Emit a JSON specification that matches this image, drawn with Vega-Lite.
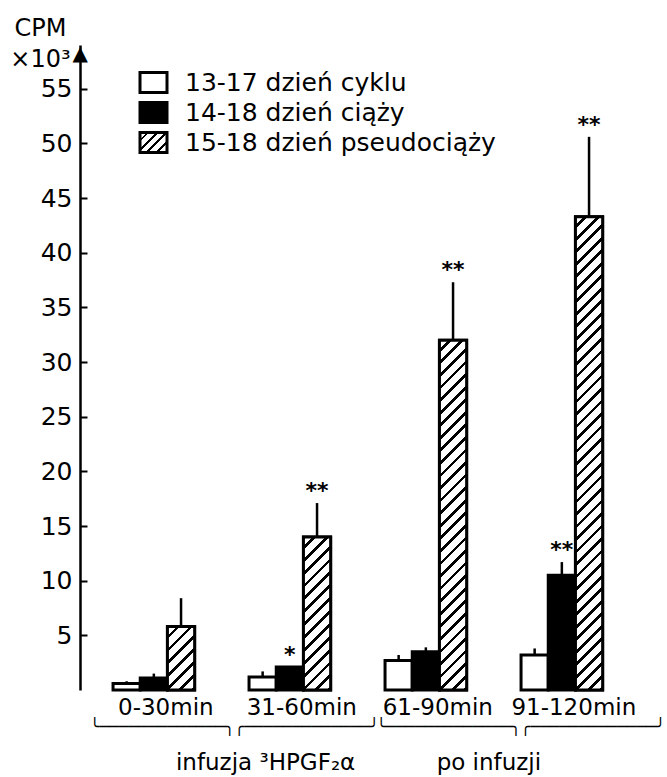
{
  "$schema": "https://vega.github.io/schema/vega-lite/v6.json",
  "width": 584,
  "height": 645,
  "autosize": {"type": "none"},
  "padding": {"left": 80, "top": 45, "right": 3, "bottom": 87},
  "background": "white",
  "config": {"view": {"stroke": null}, "font": "DejaVu Sans", "text": {"color": "black"}},
  "resolve": {"scale": {"x": "independent"}},
  "layer": [
    {
      "data": {"values": [
        {"time": "0-30min", "series": "13-17 dzień cyklu", "value": 0.6, "err": 0.8, "sig": ""},
        {"time": "0-30min", "series": "14-18 dzień ciąży", "value": 1.1, "err": 1.5, "sig": ""},
        {"time": "0-30min", "series": "15-18 dzień pseudociąży", "value": 5.8, "err": 8.4, "sig": ""},
        {"time": "31-60min", "series": "13-17 dzień cyklu", "value": 1.2, "err": 1.7, "sig": ""},
        {"time": "31-60min", "series": "14-18 dzień ciąży", "value": 2.1, "err": 2.1, "sig": "*"},
        {"time": "31-60min", "series": "15-18 dzień pseudociąży", "value": 14.0, "err": 17.1, "sig": "**"},
        {"time": "61-90min", "series": "13-17 dzień cyklu", "value": 2.7, "err": 3.2, "sig": ""},
        {"time": "61-90min", "series": "14-18 dzień ciąży", "value": 3.5, "err": 3.9, "sig": ""},
        {"time": "61-90min", "series": "15-18 dzień pseudociąży", "value": 32.0, "err": 37.3, "sig": "**"},
        {"time": "91-120min", "series": "13-17 dzień cyklu", "value": 3.2, "err": 3.8, "sig": ""},
        {"time": "91-120min", "series": "14-18 dzień ciąży", "value": 10.5, "err": 11.7, "sig": "**"},
        {"time": "91-120min", "series": "15-18 dzień pseudociąży", "value": 43.3, "err": 50.6, "sig": "**"}
      ]},
      "encoding": {
        "x": {
          "field": "time", "type": "nominal",
          "scale": {"type": "band", "domain": ["0-30min", "31-60min", "61-90min", "91-120min"], "paddingInner": 0.4, "paddingOuter": 0.347, "align": 0.35},
          "axis": {"title": null, "domain": false, "ticks": false, "labelFont": "DejaVu Sans", "labelFontSize": 23, "labelColor": "black", "labelPadding": 6, "labelOffset": 12, "labelAngle": 0}
        },
        "xOffset": {
          "field": "series", "type": "nominal",
          "scale": {"domain": ["13-17 dzień cyklu", "14-18 dzień ciąży", "15-18 dzień pseudociąży"], "paddingInner": 0, "paddingOuter": 0}
        }
      },
      "layer": [
        {
          "mark": {"type": "bar", "stroke": "black", "strokeWidth": 3},
          "encoding": {
            "y": {
              "field": "value", "type": "quantitative",
              "scale": {"domain": [0, 59], "nice": false, "zero": true},
              "axis": {
                "values": [5, 10, 15, 20, 25, 30, 35, 40, 45, 50, 55, 58.2],
                "labelExpr": "datum.value > 57 ? '▲' : datum.label",
                "grid": false, "domain": true, "domainColor": "black", "domainWidth": 2.5,
                "ticks": true, "tickColor": "black", "tickWidth": 2, "tickSize": -7,
                "tickOpacity": {"condition": {"test": "datum.value > 57", "value": 0}, "value": 1},
                "labelFont": "DejaVu Sans", "labelColor": "black", "labelPadding": 15,
                "labelFontSize": {"condition": {"test": "datum.value > 57", "value": 20}, "value": 25},
                "labelAlign": {"condition": {"test": "datum.value > 57", "value": "left"}, "value": "right"},
                "labelFlush": false, "labelOverlap": false, "labelBound": false,
                "title": ["CPM", "×10³"], "titleAngle": 0, "titleAlign": "center", "titleBaseline": "alphabetic",
                "titleX": -40, "titleY": -10, "titleFontSize": 24, "titleFontWeight": "normal", "titleColor": "black",
                "titleLineHeight": 31, "titleFont": "DejaVu Sans"
              }
            },
            "fill": {
              "field": "series", "type": "nominal",
              "scale": {
                "domain": ["13-17 dzień cyklu", "14-18 dzień ciąży", "15-18 dzień pseudociąży"],
                "range": ["white", "black", {"expr": "{gradient: 'linear', x1: 0, y1: 0, x2: 1.124, y2: 0.8326, stops: [{offset: 0, color: '#fff'}, {offset: 0.14, color: '#fff'}, {offset: 0.14, color: '#000'}, {offset: 0.2, color: '#000'}, {offset: 0.2, color: '#fff'}, {offset: 0.34, color: '#fff'}, {offset: 0.34, color: '#000'}, {offset: 0.4, color: '#000'}, {offset: 0.4, color: '#fff'}, {offset: 0.54, color: '#fff'}, {offset: 0.54, color: '#000'}, {offset: 0.6, color: '#000'}, {offset: 0.6, color: '#fff'}, {offset: 0.74, color: '#fff'}, {offset: 0.74, color: '#000'}, {offset: 0.8, color: '#000'}, {offset: 0.8, color: '#fff'}, {offset: 0.94, color: '#fff'}, {offset: 0.94, color: '#000'}, {offset: 1, color: '#000'}]}"}]
              },
              "legend": {
                "title": null, "orient": "none", "legendX": 61, "legendY": 25, "padding": 0,
                "symbolType": "M-1.35,-1H1.35V1H-1.35Z", "symbolSize": 400,
                "symbolStrokeWidth": 3, "symbolStrokeColor": "black",
                "labelFont": "DejaVu Sans", "labelFontSize": 25, "labelColor": "black", "labelOffset": 19, "labelLimit": 500,
                "rowPadding": -3,
                "encode": {"symbols": {"update": {
                  "stroke": {"value": "black"},
                  "strokeWidth": {"value": 3},
                  "opacity": {"value": 1}
                }}}
              }
            }
          }
        },
        {
          "transform": [{"filter": "datum.time === '0-30min' && datum.series === '15-18 dzień pseudociąży'"}],
          "mark": {"type": "bar", "stroke": "black", "strokeWidth": 3, "fill": {"gradient": "linear", "x1": 0, "y1": 0, "x2": 0.5177, "y2": 1.2068, "stops": [
            {"offset": 0, "color": "#fff"}, {"offset": 0.1, "color": "#fff"}, {"offset": 0.1, "color": "#000"}, {"offset": 0.1429, "color": "#000"},
            {"offset": 0.1429, "color": "#fff"}, {"offset": 0.2429, "color": "#fff"}, {"offset": 0.2429, "color": "#000"}, {"offset": 0.2857, "color": "#000"},
            {"offset": 0.2857, "color": "#fff"}, {"offset": 0.3857, "color": "#fff"}, {"offset": 0.3857, "color": "#000"}, {"offset": 0.4286, "color": "#000"},
            {"offset": 0.4286, "color": "#fff"}, {"offset": 0.5286, "color": "#fff"}, {"offset": 0.5286, "color": "#000"}, {"offset": 0.5714, "color": "#000"},
            {"offset": 0.5714, "color": "#fff"}, {"offset": 0.6714, "color": "#fff"}, {"offset": 0.6714, "color": "#000"}, {"offset": 0.7143, "color": "#000"},
            {"offset": 0.7143, "color": "#fff"}, {"offset": 0.8143, "color": "#fff"}, {"offset": 0.8143, "color": "#000"}, {"offset": 0.8571, "color": "#000"},
            {"offset": 0.8571, "color": "#fff"}, {"offset": 0.9571, "color": "#fff"}, {"offset": 0.9571, "color": "#000"}, {"offset": 1, "color": "#000"}
          ]}},
          "encoding": {"y": {"field": "value", "type": "quantitative"}}
        },
        {
          "transform": [{"filter": "datum.time === '31-60min' && datum.series === '15-18 dzień pseudociąży'"}],
          "mark": {"type": "bar", "stroke": "black", "strokeWidth": 3, "fill": {"gradient": "linear", "x1": 0, "y1": 0, "x2": 0.2030, "y2": 1.1417, "stops": [
            {"offset": 0, "color": "#fff"}, {"offset": 0.05, "color": "#fff"}, {"offset": 0.05, "color": "#000"}, {"offset": 0.0714, "color": "#000"},
            {"offset": 0.0714, "color": "#fff"}, {"offset": 0.1214, "color": "#fff"}, {"offset": 0.1214, "color": "#000"}, {"offset": 0.1429, "color": "#000"},
            {"offset": 0.1429, "color": "#fff"}, {"offset": 0.1929, "color": "#fff"}, {"offset": 0.1929, "color": "#000"}, {"offset": 0.2143, "color": "#000"},
            {"offset": 0.2143, "color": "#fff"}, {"offset": 0.2643, "color": "#fff"}, {"offset": 0.2643, "color": "#000"}, {"offset": 0.2857, "color": "#000"},
            {"offset": 0.2857, "color": "#fff"}, {"offset": 0.3357, "color": "#fff"}, {"offset": 0.3357, "color": "#000"}, {"offset": 0.3571, "color": "#000"},
            {"offset": 0.3571, "color": "#fff"}, {"offset": 0.4071, "color": "#fff"}, {"offset": 0.4071, "color": "#000"}, {"offset": 0.4286, "color": "#000"},
            {"offset": 0.4286, "color": "#fff"}, {"offset": 0.4786, "color": "#fff"}, {"offset": 0.4786, "color": "#000"}, {"offset": 0.5, "color": "#000"},
            {"offset": 0.5, "color": "#fff"}, {"offset": 0.55, "color": "#fff"}, {"offset": 0.55, "color": "#000"}, {"offset": 0.5714, "color": "#000"},
            {"offset": 0.5714, "color": "#fff"}, {"offset": 0.6214, "color": "#fff"}, {"offset": 0.6214, "color": "#000"}, {"offset": 0.6429, "color": "#000"},
            {"offset": 0.6429, "color": "#fff"}, {"offset": 0.6929, "color": "#fff"}, {"offset": 0.6929, "color": "#000"}, {"offset": 0.7143, "color": "#000"},
            {"offset": 0.7143, "color": "#fff"}, {"offset": 0.7643, "color": "#fff"}, {"offset": 0.7643, "color": "#000"}, {"offset": 0.7857, "color": "#000"},
            {"offset": 0.7857, "color": "#fff"}, {"offset": 0.8357, "color": "#fff"}, {"offset": 0.8357, "color": "#000"}, {"offset": 0.8571, "color": "#000"},
            {"offset": 0.8571, "color": "#fff"}, {"offset": 0.9071, "color": "#fff"}, {"offset": 0.9071, "color": "#000"}, {"offset": 0.9286, "color": "#000"},
            {"offset": 0.9286, "color": "#fff"}, {"offset": 0.9786, "color": "#fff"}, {"offset": 0.9786, "color": "#000"}, {"offset": 1, "color": "#000"}
          ]}},
          "encoding": {"y": {"field": "value", "type": "quantitative"}}
        },
        {
          "transform": [{"filter": "datum.time === '61-90min' && datum.series === '15-18 dzień pseudociąży'"}],
          "mark": {"type": "bar", "stroke": "black", "strokeWidth": 3, "fill": {"gradient": "linear", "x1": 0, "y1": 0, "x2": 0.0833, "y2": 1.0713, "stops": [
            {"offset": 0, "color": "#fff"}, {"offset": 0.0233, "color": "#fff"}, {"offset": 0.0233, "color": "#000"}, {"offset": 0.0333, "color": "#000"},
            {"offset": 0.0333, "color": "#fff"}, {"offset": 0.0567, "color": "#fff"}, {"offset": 0.0567, "color": "#000"}, {"offset": 0.0667, "color": "#000"},
            {"offset": 0.0667, "color": "#fff"}, {"offset": 0.09, "color": "#fff"}, {"offset": 0.09, "color": "#000"}, {"offset": 0.1, "color": "#000"},
            {"offset": 0.1, "color": "#fff"}, {"offset": 0.1233, "color": "#fff"}, {"offset": 0.1233, "color": "#000"}, {"offset": 0.1333, "color": "#000"},
            {"offset": 0.1333, "color": "#fff"}, {"offset": 0.1567, "color": "#fff"}, {"offset": 0.1567, "color": "#000"}, {"offset": 0.1667, "color": "#000"},
            {"offset": 0.1667, "color": "#fff"}, {"offset": 0.19, "color": "#fff"}, {"offset": 0.19, "color": "#000"}, {"offset": 0.2, "color": "#000"},
            {"offset": 0.2, "color": "#fff"}, {"offset": 0.2233, "color": "#fff"}, {"offset": 0.2233, "color": "#000"}, {"offset": 0.2333, "color": "#000"},
            {"offset": 0.2333, "color": "#fff"}, {"offset": 0.2567, "color": "#fff"}, {"offset": 0.2567, "color": "#000"}, {"offset": 0.2667, "color": "#000"},
            {"offset": 0.2667, "color": "#fff"}, {"offset": 0.29, "color": "#fff"}, {"offset": 0.29, "color": "#000"}, {"offset": 0.3, "color": "#000"},
            {"offset": 0.3, "color": "#fff"}, {"offset": 0.3233, "color": "#fff"}, {"offset": 0.3233, "color": "#000"}, {"offset": 0.3333, "color": "#000"},
            {"offset": 0.3333, "color": "#fff"}, {"offset": 0.3567, "color": "#fff"}, {"offset": 0.3567, "color": "#000"}, {"offset": 0.3667, "color": "#000"},
            {"offset": 0.3667, "color": "#fff"}, {"offset": 0.39, "color": "#fff"}, {"offset": 0.39, "color": "#000"}, {"offset": 0.4, "color": "#000"},
            {"offset": 0.4, "color": "#fff"}, {"offset": 0.4233, "color": "#fff"}, {"offset": 0.4233, "color": "#000"}, {"offset": 0.4333, "color": "#000"},
            {"offset": 0.4333, "color": "#fff"}, {"offset": 0.4567, "color": "#fff"}, {"offset": 0.4567, "color": "#000"}, {"offset": 0.4667, "color": "#000"},
            {"offset": 0.4667, "color": "#fff"}, {"offset": 0.49, "color": "#fff"}, {"offset": 0.49, "color": "#000"}, {"offset": 0.5, "color": "#000"},
            {"offset": 0.5, "color": "#fff"}, {"offset": 0.5233, "color": "#fff"}, {"offset": 0.5233, "color": "#000"}, {"offset": 0.5333, "color": "#000"},
            {"offset": 0.5333, "color": "#fff"}, {"offset": 0.5567, "color": "#fff"}, {"offset": 0.5567, "color": "#000"}, {"offset": 0.5667, "color": "#000"},
            {"offset": 0.5667, "color": "#fff"}, {"offset": 0.59, "color": "#fff"}, {"offset": 0.59, "color": "#000"}, {"offset": 0.6, "color": "#000"},
            {"offset": 0.6, "color": "#fff"}, {"offset": 0.6233, "color": "#fff"}, {"offset": 0.6233, "color": "#000"}, {"offset": 0.6333, "color": "#000"},
            {"offset": 0.6333, "color": "#fff"}, {"offset": 0.6567, "color": "#fff"}, {"offset": 0.6567, "color": "#000"}, {"offset": 0.6667, "color": "#000"},
            {"offset": 0.6667, "color": "#fff"}, {"offset": 0.69, "color": "#fff"}, {"offset": 0.69, "color": "#000"}, {"offset": 0.7, "color": "#000"},
            {"offset": 0.7, "color": "#fff"}, {"offset": 0.7233, "color": "#fff"}, {"offset": 0.7233, "color": "#000"}, {"offset": 0.7333, "color": "#000"},
            {"offset": 0.7333, "color": "#fff"}, {"offset": 0.7567, "color": "#fff"}, {"offset": 0.7567, "color": "#000"}, {"offset": 0.7667, "color": "#000"},
            {"offset": 0.7667, "color": "#fff"}, {"offset": 0.79, "color": "#fff"}, {"offset": 0.79, "color": "#000"}, {"offset": 0.8, "color": "#000"},
            {"offset": 0.8, "color": "#fff"}, {"offset": 0.8233, "color": "#fff"}, {"offset": 0.8233, "color": "#000"}, {"offset": 0.8333, "color": "#000"},
            {"offset": 0.8333, "color": "#fff"}, {"offset": 0.8567, "color": "#fff"}, {"offset": 0.8567, "color": "#000"}, {"offset": 0.8667, "color": "#000"},
            {"offset": 0.8667, "color": "#fff"}, {"offset": 0.89, "color": "#fff"}, {"offset": 0.89, "color": "#000"}, {"offset": 0.9, "color": "#000"},
            {"offset": 0.9, "color": "#fff"}, {"offset": 0.9233, "color": "#fff"}, {"offset": 0.9233, "color": "#000"}, {"offset": 0.9333, "color": "#000"},
            {"offset": 0.9333, "color": "#fff"}, {"offset": 0.9567, "color": "#fff"}, {"offset": 0.9567, "color": "#000"}, {"offset": 0.9667, "color": "#000"},
            {"offset": 0.9667, "color": "#fff"}, {"offset": 0.99, "color": "#fff"}, {"offset": 0.99, "color": "#000"}, {"offset": 1, "color": "#000"}
          ]}},
          "encoding": {"y": {"field": "value", "type": "quantitative"}}
        },
        {
          "transform": [{"filter": "datum.time === '91-120min' && datum.series === '15-18 dzień pseudociąży'"}],
          "mark": {"type": "bar", "stroke": "black", "strokeWidth": 3, "fill": {"gradient": "linear", "x1": 0, "y1": 0, "x2": 0.0606, "y2": 1.054, "stops": [
            {"offset": 0, "color": "#fff"}, {"offset": 0.0175, "color": "#fff"}, {"offset": 0.0175, "color": "#000"}, {"offset": 0.025, "color": "#000"},
            {"offset": 0.025, "color": "#fff"}, {"offset": 0.0425, "color": "#fff"}, {"offset": 0.0425, "color": "#000"}, {"offset": 0.05, "color": "#000"},
            {"offset": 0.05, "color": "#fff"}, {"offset": 0.0675, "color": "#fff"}, {"offset": 0.0675, "color": "#000"}, {"offset": 0.075, "color": "#000"},
            {"offset": 0.075, "color": "#fff"}, {"offset": 0.0925, "color": "#fff"}, {"offset": 0.0925, "color": "#000"}, {"offset": 0.1, "color": "#000"},
            {"offset": 0.1, "color": "#fff"}, {"offset": 0.1175, "color": "#fff"}, {"offset": 0.1175, "color": "#000"}, {"offset": 0.125, "color": "#000"},
            {"offset": 0.125, "color": "#fff"}, {"offset": 0.1425, "color": "#fff"}, {"offset": 0.1425, "color": "#000"}, {"offset": 0.15, "color": "#000"},
            {"offset": 0.15, "color": "#fff"}, {"offset": 0.1675, "color": "#fff"}, {"offset": 0.1675, "color": "#000"}, {"offset": 0.175, "color": "#000"},
            {"offset": 0.175, "color": "#fff"}, {"offset": 0.1925, "color": "#fff"}, {"offset": 0.1925, "color": "#000"}, {"offset": 0.2, "color": "#000"},
            {"offset": 0.2, "color": "#fff"}, {"offset": 0.2175, "color": "#fff"}, {"offset": 0.2175, "color": "#000"}, {"offset": 0.225, "color": "#000"},
            {"offset": 0.225, "color": "#fff"}, {"offset": 0.2425, "color": "#fff"}, {"offset": 0.2425, "color": "#000"}, {"offset": 0.25, "color": "#000"},
            {"offset": 0.25, "color": "#fff"}, {"offset": 0.2675, "color": "#fff"}, {"offset": 0.2675, "color": "#000"}, {"offset": 0.275, "color": "#000"},
            {"offset": 0.275, "color": "#fff"}, {"offset": 0.2925, "color": "#fff"}, {"offset": 0.2925, "color": "#000"}, {"offset": 0.3, "color": "#000"},
            {"offset": 0.3, "color": "#fff"}, {"offset": 0.3175, "color": "#fff"}, {"offset": 0.3175, "color": "#000"}, {"offset": 0.325, "color": "#000"},
            {"offset": 0.325, "color": "#fff"}, {"offset": 0.3425, "color": "#fff"}, {"offset": 0.3425, "color": "#000"}, {"offset": 0.35, "color": "#000"},
            {"offset": 0.35, "color": "#fff"}, {"offset": 0.3675, "color": "#fff"}, {"offset": 0.3675, "color": "#000"}, {"offset": 0.375, "color": "#000"},
            {"offset": 0.375, "color": "#fff"}, {"offset": 0.3925, "color": "#fff"}, {"offset": 0.3925, "color": "#000"}, {"offset": 0.4, "color": "#000"},
            {"offset": 0.4, "color": "#fff"}, {"offset": 0.4175, "color": "#fff"}, {"offset": 0.4175, "color": "#000"}, {"offset": 0.425, "color": "#000"},
            {"offset": 0.425, "color": "#fff"}, {"offset": 0.4425, "color": "#fff"}, {"offset": 0.4425, "color": "#000"}, {"offset": 0.45, "color": "#000"},
            {"offset": 0.45, "color": "#fff"}, {"offset": 0.4675, "color": "#fff"}, {"offset": 0.4675, "color": "#000"}, {"offset": 0.475, "color": "#000"},
            {"offset": 0.475, "color": "#fff"}, {"offset": 0.4925, "color": "#fff"}, {"offset": 0.4925, "color": "#000"}, {"offset": 0.5, "color": "#000"},
            {"offset": 0.5, "color": "#fff"}, {"offset": 0.5175, "color": "#fff"}, {"offset": 0.5175, "color": "#000"}, {"offset": 0.525, "color": "#000"},
            {"offset": 0.525, "color": "#fff"}, {"offset": 0.5425, "color": "#fff"}, {"offset": 0.5425, "color": "#000"}, {"offset": 0.55, "color": "#000"},
            {"offset": 0.55, "color": "#fff"}, {"offset": 0.5675, "color": "#fff"}, {"offset": 0.5675, "color": "#000"}, {"offset": 0.575, "color": "#000"},
            {"offset": 0.575, "color": "#fff"}, {"offset": 0.5925, "color": "#fff"}, {"offset": 0.5925, "color": "#000"}, {"offset": 0.6, "color": "#000"},
            {"offset": 0.6, "color": "#fff"}, {"offset": 0.6175, "color": "#fff"}, {"offset": 0.6175, "color": "#000"}, {"offset": 0.625, "color": "#000"},
            {"offset": 0.625, "color": "#fff"}, {"offset": 0.6425, "color": "#fff"}, {"offset": 0.6425, "color": "#000"}, {"offset": 0.65, "color": "#000"},
            {"offset": 0.65, "color": "#fff"}, {"offset": 0.6675, "color": "#fff"}, {"offset": 0.6675, "color": "#000"}, {"offset": 0.675, "color": "#000"},
            {"offset": 0.675, "color": "#fff"}, {"offset": 0.6925, "color": "#fff"}, {"offset": 0.6925, "color": "#000"}, {"offset": 0.7, "color": "#000"},
            {"offset": 0.7, "color": "#fff"}, {"offset": 0.7175, "color": "#fff"}, {"offset": 0.7175, "color": "#000"}, {"offset": 0.725, "color": "#000"},
            {"offset": 0.725, "color": "#fff"}, {"offset": 0.7425, "color": "#fff"}, {"offset": 0.7425, "color": "#000"}, {"offset": 0.75, "color": "#000"},
            {"offset": 0.75, "color": "#fff"}, {"offset": 0.7675, "color": "#fff"}, {"offset": 0.7675, "color": "#000"}, {"offset": 0.775, "color": "#000"},
            {"offset": 0.775, "color": "#fff"}, {"offset": 0.7925, "color": "#fff"}, {"offset": 0.7925, "color": "#000"}, {"offset": 0.8, "color": "#000"},
            {"offset": 0.8, "color": "#fff"}, {"offset": 0.8175, "color": "#fff"}, {"offset": 0.8175, "color": "#000"}, {"offset": 0.825, "color": "#000"},
            {"offset": 0.825, "color": "#fff"}, {"offset": 0.8425, "color": "#fff"}, {"offset": 0.8425, "color": "#000"}, {"offset": 0.85, "color": "#000"},
            {"offset": 0.85, "color": "#fff"}, {"offset": 0.8675, "color": "#fff"}, {"offset": 0.8675, "color": "#000"}, {"offset": 0.875, "color": "#000"},
            {"offset": 0.875, "color": "#fff"}, {"offset": 0.8925, "color": "#fff"}, {"offset": 0.8925, "color": "#000"}, {"offset": 0.9, "color": "#000"},
            {"offset": 0.9, "color": "#fff"}, {"offset": 0.9175, "color": "#fff"}, {"offset": 0.9175, "color": "#000"}, {"offset": 0.925, "color": "#000"},
            {"offset": 0.925, "color": "#fff"}, {"offset": 0.9425, "color": "#fff"}, {"offset": 0.9425, "color": "#000"}, {"offset": 0.95, "color": "#000"},
            {"offset": 0.95, "color": "#fff"}, {"offset": 0.9675, "color": "#fff"}, {"offset": 0.9675, "color": "#000"}, {"offset": 0.975, "color": "#000"},
            {"offset": 0.975, "color": "#fff"}, {"offset": 0.9925, "color": "#fff"}, {"offset": 0.9925, "color": "#000"}, {"offset": 1, "color": "#000"}
          ]}},
          "encoding": {"y": {"field": "value", "type": "quantitative"}}
        },
        {
          "mark": {"type": "rule", "strokeWidth": 2.5, "color": "black"},
          "encoding": {"y": {"field": "value", "type": "quantitative"}, "y2": {"field": "err"}}
        },
        {
          "mark": {"type": "text", "font": "DejaVu Sans", "fontWeight": "bold", "fontSize": 22, "baseline": "alphabetic", "dy": -5, "color": "black"},
          "encoding": {"y": {"field": "err", "type": "quantitative"}, "text": {"field": "sig"}}
        }
      ]
    },
    {
      "data": {"values": [{"phase": "infuzja ³HPGF₂α"}, {"phase": "po infuzji"}]},
      "encoding": {
        "x": {"field": "phase", "type": "nominal", "scale": {"type": "band", "domain": ["infuzja ³HPGF₂α", "po infuzji"], "paddingInner": 0, "paddingOuter": 0.02, "align": 1}, "axis": null}
      },
      "layer": [
        {
          "mark": {"type": "text", "font": "DejaVu Sans Mono", "fontSize": 16, "baseline": "middle", "color": "black", "text": "╰─────────────╮╭─────────────╯"},
          "encoding": {"y": {"datum": -3.4}}
        },
        {
          "transform": [{"filter": "datum.phase === 'po infuzji'"}],
          "mark": {"type": "text", "font": "DejaVu Sans", "fontSize": 23, "baseline": "middle", "color": "black", "dx": -32},
          "encoding": {"y": {"datum": -6.68}, "text": {"field": "phase"}}
        },
        {
          "transform": [{"filter": "datum.phase !== 'po infuzji'"}],
          "mark": {"type": "text", "font": "DejaVu Sans", "fontSize": 23, "baseline": "middle", "color": "black", "dx": 31},
          "encoding": {"y": {"datum": -6.68}, "text": {"field": "phase"}}
        }
      ]
    }
  ]
}
